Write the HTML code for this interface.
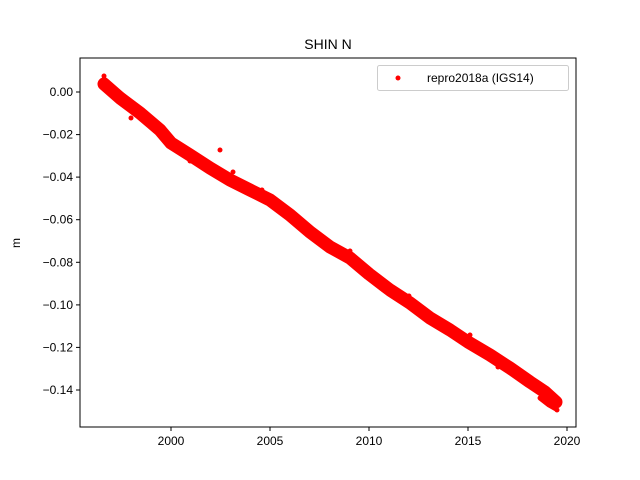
<!DOCTYPE html>
<html><head><meta charset="utf-8"><style>
body{margin:0;background:#fff;}
svg{display:block;font-family:"Liberation Sans","DejaVu Sans",sans-serif;}
</style></head><body>
<svg width="640" height="480" viewBox="0 0 640 480" xmlns="http://www.w3.org/2000/svg">
<rect width="640" height="480" fill="#fff"/>
<text x="328" y="49" font-size="14" text-anchor="middle">SHIN N</text>
<g fill="none" stroke="#f00" stroke-linecap="round" stroke-linejoin="round">
<polyline stroke-width="13" points="104,84 120,98 140,113 160,130 171,143 190,155 210,168 230,180 250,190 270,200 290,215 310,232 330,247 350,258 369,274 390,290 410,303 430,318 450,330 468,342 490,355 510,368 530,382 545,392 556,402"/>
<polyline stroke-width="5" points="104,79 115,89 130,101 150,118"/>
<polyline stroke-width="5" points="556,409 549,405 540,398"/>
</g>
<g fill="#f00">
<circle cx="220" cy="150" r="2.5"/><circle cx="131" cy="118" r="2.5"/><circle cx="146" cy="113" r="2.5"/>
<circle cx="233" cy="172" r="2.5"/><circle cx="262" cy="190" r="2.5"/><circle cx="300" cy="228" r="2.5"/>
<circle cx="350" cy="251" r="2.5"/><circle cx="409" cy="296" r="2.5"/><circle cx="470" cy="335" r="2.5"/>
<circle cx="506" cy="362" r="2.5"/><circle cx="498" cy="367" r="2.5"/><circle cx="190" cy="161" r="2.5"/>
<circle cx="104" cy="76" r="2.5"/><circle cx="557" cy="410" r="2.5"/><circle cx="380" cy="287" r="2.5"/>
</g>
<rect x="80" y="58" width="496" height="369" fill="none" stroke="#000" stroke-width="1"/>
<g stroke="#000" stroke-width="1">
<line x1="171" y1="427" x2="171" y2="431"/><line x1="270" y1="427" x2="270" y2="431"/>
<line x1="369" y1="427" x2="369" y2="431"/><line x1="468" y1="427" x2="468" y2="431"/>
<line x1="567" y1="427" x2="567" y2="431"/>
<line x1="76" y1="92" x2="80" y2="92"/><line x1="76" y1="134.6" x2="80" y2="134.6"/>
<line x1="76" y1="177.1" x2="80" y2="177.1"/><line x1="76" y1="219.7" x2="80" y2="219.7"/>
<line x1="76" y1="262.3" x2="80" y2="262.3"/><line x1="76" y1="304.9" x2="80" y2="304.9"/>
<line x1="76" y1="347.4" x2="80" y2="347.4"/><line x1="76" y1="390" x2="80" y2="390"/>
</g>
<g font-size="12" text-anchor="middle">
<text x="171" y="445">2000</text><text x="270" y="445">2005</text><text x="369" y="445">2010</text>
<text x="468" y="445">2015</text><text x="567" y="445">2020</text>
</g>
<g font-size="12" text-anchor="end">
<text x="73" y="96">0.00</text><text x="73" y="138.6">−0.02</text><text x="73" y="181.1">−0.04</text>
<text x="73" y="223.7">−0.06</text><text x="73" y="266.3">−0.08</text><text x="73" y="308.9">−0.10</text>
<text x="73" y="351.4">−0.12</text><text x="73" y="394">−0.14</text>
</g>
<text x="20" y="243" font-size="12" text-anchor="middle" transform="rotate(-90 20 243)">m</text>
<rect x="377.5" y="65.5" width="191" height="25" rx="2" fill="#fff" stroke="#ccc"/>
<circle cx="398" cy="78" r="2.5" fill="#f00"/>
<text x="427" y="82" font-size="12">repro2018a (IGS14)</text>
</svg>
</body></html>
